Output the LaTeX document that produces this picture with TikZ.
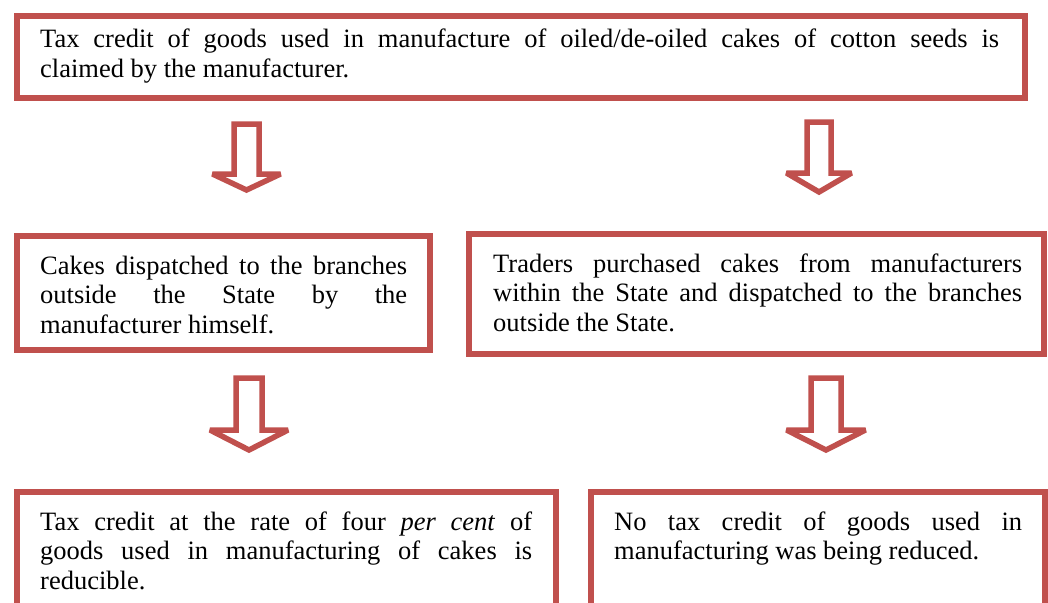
\documentclass[tikz,border=0pt]{standalone}
\usepackage{fontspec}
\setmainfont{Liberation Serif}
\definecolor{accentred}{HTML}{C0504D}
\tikzset{
  boxframe/.style={draw=accentred, line width=6pt, inner sep=0pt, rectangle},
  boxtext/.style={anchor=base west, inner sep=0pt, align=justify,
    font=\fontsize{26.5}{29.5}\selectfont,
    execute at begin node={\hyphenpenalty=10000 \tolerance=10000 \hbadness=10000 },},
  arrowline/.style={draw=accentred, fill=white, line width=5.5pt, line join=miter, miter limit=2},
  pics/hollowdown/.style n args={4}{code={
    \draw[arrowline] (-#1,0) -- (-#1,#3) -- (-#2,#3) -- (0,#4) -- (#2,#3) -- (#1,#3) -- (#1,0) -- cycle;
  }}
}
\begin{document}
\begin{tikzpicture}[x=1pt,y=-1pt]
  \useasboundingbox (0,0) rectangle (1048,602);
  \clip (0,0) rectangle (1048,602);

  % frames
  \node[boxframe, minimum width=1008pt, minimum height=82pt]  (b1) at (521,57) {};
  \node[boxframe, minimum width=413pt,  minimum height=114pt] (b2) at (223.5,293) {};
  \node[boxframe, minimum width=575pt,  minimum height=120pt] (b3) at (756.5,294) {};
  \node[boxframe, minimum width=539pt,  minimum height=158pt] (b4) at (286.5,571) {};
  \node[boxframe, minimum width=454pt,  minimum height=158pt] (b5) at (818,571) {};

  % texts
  \node[boxtext, text width=959pt] (t1) at (40,48)
    {Tax credit of goods used in manufacture of oiled/de-oiled cakes of cotton seeds is\linebreak claimed by the manufacturer.};
  \node[boxtext, text width=367pt] (t2) at (40,274)
    {Cakes dispatched to the branches\linebreak outside the State by the\linebreak manufacturer himself.};
  \node[boxtext, text width=529pt] (t3) at (493,272)
    {Traders purchased cakes from manufacturers\linebreak within the State and dispatched to the branches\linebreak outside the State.};
  \node[boxtext, text width=492pt] (t4) at (40,530)
    {Tax credit at the rate of four \textit{per cent} of\linebreak goods used in manufacturing of cakes is\linebreak reducible.};
  \node[boxtext, text width=408pt] (t5) at (614,530)
    {No tax credit of goods used in\linebreak manufacturing was being reduced.};

  % hollow down arrows
  \pic at (246.5,124) {hollowdown={12.5}{34}{50}{66}};
  \pic at (819,122)   {hollowdown={12}{32.5}{51}{70}};
  \pic at (249,378)   {hollowdown={13}{39}{52}{72}};
  \pic at (826,378)   {hollowdown={15}{39.5}{52}{72}};
\end{tikzpicture}
\end{document}
